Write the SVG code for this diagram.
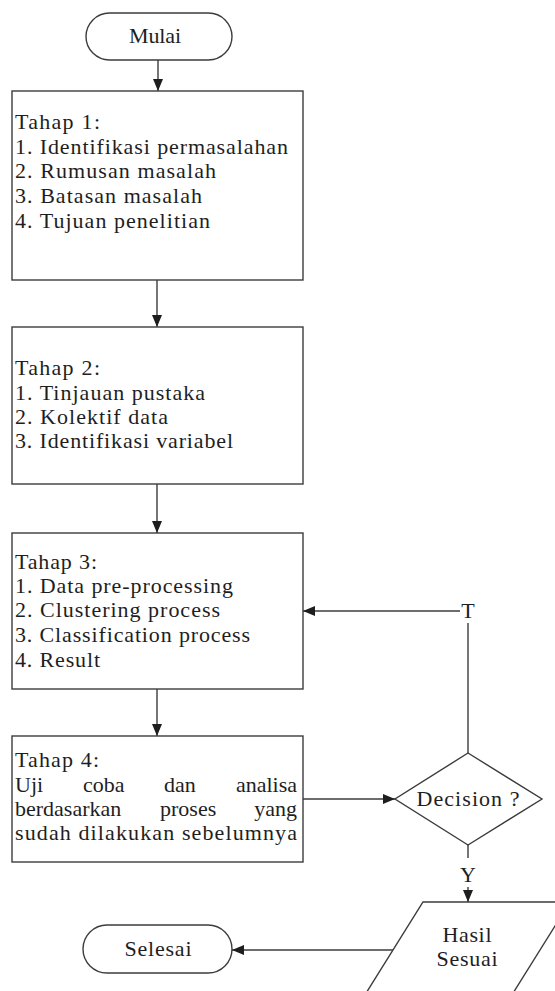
<svg xmlns="http://www.w3.org/2000/svg" width="555" height="991" viewBox="0 0 555 991">
  <style>
    .shape { fill: #ffffff; stroke: #3c3c3c; stroke-width: 1.4; }
    .edge { fill: none; stroke: #3c3c3c; stroke-width: 1.4; }
    .txt { font-family: "Liberation Serif", "Times New Roman", serif; font-size: 22px; fill: #1e1e1e; }
    .mid { text-anchor: middle; }
  </style>
  <defs>
    <marker id="arrow" markerUnits="userSpaceOnUse" markerWidth="12" markerHeight="12" viewBox="0 0 12 10" refX="12" refY="5" orient="auto">
      <path d="M0,0 L12,5 L0,10 z" fill="#1e1e1e"/>
    </marker>
  </defs>

  <rect width="555" height="991" fill="#ffffff"/>

  <!-- connectors -->
  <g id="connectors">
    <line class="edge" x1="158" y1="60" x2="158" y2="91" marker-end="url(#arrow)"/>
    <line class="edge" x1="157" y1="280" x2="157" y2="327" marker-end="url(#arrow)"/>
    <line class="edge" x1="157" y1="484" x2="157" y2="533" marker-end="url(#arrow)"/>
    <line class="edge" x1="157" y1="689" x2="157" y2="736" marker-end="url(#arrow)"/>
    <line class="edge" x1="303" y1="799" x2="395" y2="799" marker-end="url(#arrow)"/>
    <!-- T branch back to stage 3 -->
    <line class="edge" x1="468" y1="753" x2="468" y2="623"/>
    <line class="edge" x1="460" y1="611" x2="303" y2="611" marker-end="url(#arrow)"/>
    <text class="txt mid" x="468" y="618">T</text>
    <!-- Y branch to result -->
    <line class="edge" x1="468" y1="845" x2="468" y2="858"/>
    <text class="txt mid" x="468" y="882">Y</text>
    <line class="edge" x1="468" y1="887" x2="468" y2="902" marker-end="url(#arrow)"/>
    <line class="edge" x1="393" y1="950" x2="232" y2="950" marker-end="url(#arrow)"/>
  </g>

  <!-- start -->
  <g id="mulai">
    <rect class="shape" x="86" y="13" width="146" height="47" rx="23.5"/>
    <text class="txt mid" x="155" y="43" textLength="52">Mulai</text>
  </g>

  <!-- stage 1 -->
  <g id="tahap1">
    <rect class="shape" x="12" y="91" width="291" height="189"/>
    <text class="txt" x="15" y="129" textLength="85">Tahap 1:</text>
    <text class="txt" x="15" y="154" textLength="273">1. Identifikasi permasalahan</text>
    <text class="txt" x="15" y="178" textLength="201">2. Rumusan masalah</text>
    <text class="txt" x="15" y="203" textLength="187">3. Batasan masalah</text>
    <text class="txt" x="15" y="228" textLength="195">4. Tujuan penelitian</text>
  </g>

  <!-- stage 2 -->
  <g id="tahap2">
    <rect class="shape" x="12" y="327" width="291" height="157"/>
    <text class="txt" x="15" y="375" textLength="85">Tahap 2:</text>
    <text class="txt" x="15" y="400" textLength="190">1. Tinjauan pustaka</text>
    <text class="txt" x="15" y="424" textLength="153">2. Kolektif data</text>
    <text class="txt" x="15" y="448" textLength="218">3. Identifikasi variabel</text>
  </g>

  <!-- stage 3 -->
  <g id="tahap3">
    <rect class="shape" x="12" y="533" width="291" height="156"/>
    <text class="txt" x="15" y="569" textLength="82">Tahap 3:</text>
    <text class="txt" x="15" y="593" textLength="218">1. Data pre-processing</text>
    <text class="txt" x="15" y="617" textLength="205">2. Clustering process</text>
    <text class="txt" x="15" y="642" textLength="235">3. Classification process</text>
    <text class="txt" x="15" y="667" textLength="85">4. Result</text>
  </g>

  <!-- stage 4: justified paragraph, words placed individually -->
  <g id="tahap4">
    <rect class="shape" x="12" y="736" width="291" height="126"/>
    <text class="txt" x="15" y="767" textLength="84">Tahap 4:</text>
    <text class="txt" x="15" y="792">Uji</text>
    <text class="txt" x="83" y="792">coba</text>
    <text class="txt" x="164" y="792">dan</text>
    <text class="txt" x="297" y="792" text-anchor="end">analisa</text>
    <text class="txt" x="15" y="816">berdasarkan</text>
    <text class="txt" x="160" y="816">proses</text>
    <text class="txt" x="297" y="816" text-anchor="end">yang</text>
    <text class="txt" x="15" y="840" textLength="282">sudah dilakukan sebelumnya</text>
  </g>

  <!-- decision -->
  <g id="decision">
    <polygon class="shape" points="468,753 542,799 468,845 395,799"/>
    <text class="txt mid" x="468" y="806" textLength="103">Decision ?</text>
  </g>

  <!-- result output -->
  <g id="hasil">
    <polygon class="shape" points="423,902 570,902 510,998 363,998"/>
    <text class="txt mid" x="467" y="942" textLength="49">Hasil</text>
    <text class="txt mid" x="467" y="966" textLength="61">Sesuai</text>
  </g>

  <!-- end -->
  <g id="selesai">
    <rect class="shape" x="83" y="925" width="149" height="48" rx="24"/>
    <text class="txt mid" x="158" y="956" textLength="67">Selesai</text>
  </g>
</svg>
